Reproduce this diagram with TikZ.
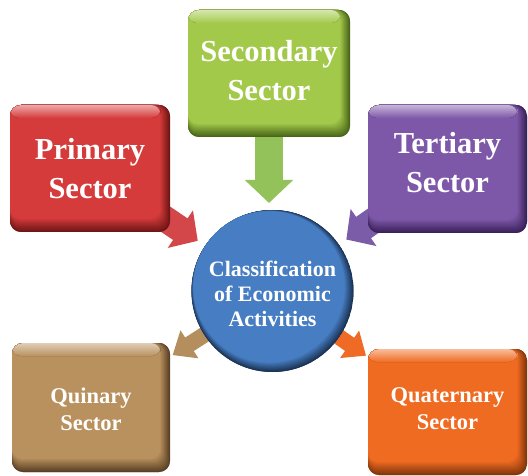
\documentclass[tikz,border=0pt]{standalone}
\usepackage{fontspec}
\setmainfont{Liberation Serif}
\usetikzlibrary{arrows.meta}
\definecolor{redM}{HTML}{D63B3B}\definecolor{redD}{HTML}{6E1515}
\definecolor{grnM}{HTML}{A3C94B}\definecolor{grnD}{HTML}{4A6619}
\definecolor{purM}{HTML}{7E58A8}\definecolor{purD}{HTML}{3A2159}
\definecolor{brnM}{HTML}{B9915F}\definecolor{brnD}{HTML}{5A4024}
\definecolor{orgM}{HTML}{F06B22}\definecolor{orgD}{HTML}{83360B}
\definecolor{bluM}{HTML}{477EC3}\definecolor{bluD}{HTML}{1B3354}
\definecolor{arrGrn}{HTML}{93C25A}
\definecolor{arrRed}{HTML}{D3474A}
\definecolor{arrPur}{HTML}{7A5CA8}
\definecolor{arrBrn}{HTML}{B48E5C}
\definecolor{arrOrg}{HTML}{EE6A25}
\pgfdeclarelayer{bg}\pgfsetlayers{bg,main}
\tikzset{
  sbox/.style 2 args={rectangle, rounded corners=11pt, inner sep=0pt, fill=#2,
    path picture={
      \foreach \i in {0,...,12}{
        \pgfmathtruncatemacro\pc{round(100*\i/12)}
        \fill[#1!\pc!#2, rounded corners=10pt]
          (path picture bounding box.north west) rectangle
          ([shift={(-0.8*\i,1.1*\i)}]path picture bounding box.south east);
      }
      \fill[rounded corners=9pt, top color=#1!45!white, bottom color=#1]
        (path picture bounding box.north west) rectangle
        ([shift={(-9.6,-13)}]path picture bounding box.north east);
    }},
  bigtxt/.style={text=white, font=\bfseries\fontsize{30.5}{39}\selectfont, align=center, inner sep=0pt},
  smalltxt/.style={text=white, font=\bfseries\fontsize{22.5}{27}\selectfont, align=center, inner sep=0pt},
  ctxt/.style={text=white, font=\bfseries\fontsize{22}{25}\selectfont, align=center, inner sep=0pt},
  hub/.style={circle, minimum size=162pt, inner sep=0pt, fill=bluD,
    path picture={
      \foreach \i in {0,...,12}{
        \pgfmathtruncatemacro\pc{round(100*\i/12)}
        \pgfmathsetmacro\rr{81-0.45*\i}
        \fill[bluM!\pc!bluD]
          ([shift={(-0.29*\i,0.345*\i)}]path picture bounding box.center) circle[radius=\rr pt];
      }
    }},
  bigarrow/.style 2 args={line width=#1, draw=#2},
}
\begin{document}
\begin{tikzpicture}[x=1pt,y=1pt]
\useasboundingbox (0,0) rectangle (528,-476);
% boxes
\node[sbox={redM}{redD}, minimum width=160pt, minimum height=127pt] (prim) at (90,-168.5) {};
\node[bigtxt] (primT) at (90,-169) {Primary\\Sector};
\node[sbox={grnM}{grnD}, minimum width=162pt, minimum height=127pt] (sec) at (269,-73.5) {};
\node[bigtxt] (secT) at (269,-70.5) {Secondary\\Sector};
\node[sbox={purM}{purD}, minimum width=159pt, minimum height=128pt] (ter) at (447.5,-169) {};
\node[bigtxt] (terT) at (447.5,-163) {Tertiary\\Sector};
\node[sbox={brnM}{brnD}, minimum width=158pt, minimum height=129pt] (quin) at (91,-407.5) {};
\node[smalltxt] (quinT) at (91,-409) {Quinary\\Sector};
\node[sbox={orgM}{orgD}, minimum width=159pt, minimum height=126pt] (quat) at (447.5,-412) {};
\node[smalltxt] (quatT) at (447.5,-409) {Quaternary\\Sector};
% hub
\node[hub] (circ) at (272.5,-291) {};
\node[ctxt] (circT) at (272.5,-293.5) {Classification\\of Economic\\Activities};
% connectors
\begin{pgfonlayer}{bg}
\draw[bigarrow={28pt}{arrGrn}, -{Triangle[width=47pt,length=23pt]}, shorten >=88pt]
  (sec.center) -- (sec.center |- circ.center);
\draw[bigarrow={26pt}{arrRed}, -{Triangle[width=44pt,length=21pt]}, shorten >=90pt]
  (prim.center) -- (circ.center);
\draw[bigarrow={26pt}{arrPur}, -{Triangle[width=44pt,length=21pt]}, shorten >=90pt]
  (ter.center) -- (circ.center);
\draw[bigarrow={16pt}{arrBrn}, -{Triangle[width=32pt,length=20pt]}, shorten >=97pt]
  (circ.center) -- (quin.center);
\draw[bigarrow={16pt}{arrOrg}, -{Triangle[width=32pt,length=20pt]}, shorten >=99pt]
  (circ.center) -- (quat.center);
\end{pgfonlayer}
\end{tikzpicture}
\end{document}
